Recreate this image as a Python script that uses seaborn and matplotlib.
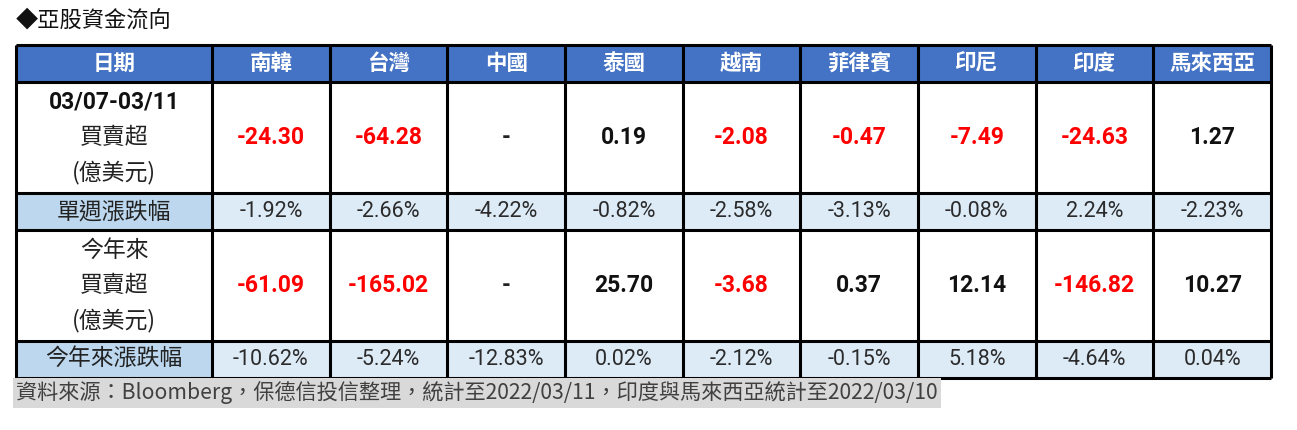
import numpy as np
import pandas as pd
import seaborn as sns
import matplotlib.pyplot as plt
from matplotlib.colors import ListedColormap

# table content
title = '◆亞股資金流向'
corner = '日期'
countries = ['南韓', '台灣', '中國', '泰國', '越南', '菲律賓', '印尼', '印度', '馬來西亞']
week_label = ['03/07-03/11', '買賣超', '(億美元)']
week_flow = [-24.30, -64.28, None, 0.19, -2.08, -0.47, -7.49, -24.63, 1.27]
week_chg_label = '單週漲跌幅'
week_chg = [-1.92, -2.66, -4.22, -0.82, -2.58, -3.13, -0.08, 2.24, -2.23]
ytd_label = ['今年來', '買賣超', '(億美元)']
ytd_flow = [-61.09, -165.02, None, 25.70, -3.68, 0.37, 12.14, -146.82, 10.27]
ytd_chg_label = '今年來漲跌幅'
ytd_chg = [-10.62, -5.24, -12.83, 0.02, -2.12, -0.15, 5.18, -4.64, 0.04]
source = '資料來源：Bloomberg，保德信投信整理，統計至2022/03/11，印度與馬來西亞統計至2022/03/10'

sns.set_style('white')
cjk = ['Noto Sans CJK TC', 'DejaVu Sans']
plt.rcParams['font.family'] = cjk

# grid layout in units: first column wider, flow rows taller
col_units = [5] + [3] * len(countries)
row_units = [1, 3, 1, 3, 1]
# colour codes per row: (label cell, data cells)
# 0 white, 1 header blue, 2 label light blue, 3 pale blue
row_codes = [(1, 1), (0, 0), (2, 3), (0, 0), (2, 3)]
palette = ['#FFFFFF', '#4472C4', '#BDD7EE', '#DDEBF7']

codes = np.array([[lab] + [dat] * len(countries) for lab, dat in row_codes])
codes = np.repeat(np.repeat(codes, row_units, axis=0), col_units, axis=1)
df = pd.DataFrame(codes)

fig = plt.figure(figsize=(12.97, 4.30), dpi=100)
ax = fig.add_axes([16 / 1297, 1 - 378 / 430, 1255 / 1297, 333 / 430])
sns.heatmap(df, cmap=ListedColormap(palette), vmin=-0.5, vmax=3.5, cbar=False,
            xticklabels=False, yticklabels=False, ax=ax)

col_edges = np.concatenate([[0], np.cumsum(col_units)])
row_edges = np.concatenate([[0], np.cumsum(row_units)])
col_mid = (col_edges[:-1] + col_edges[1:]) / 2
row_mid = (row_edges[:-1] + row_edges[1:]) / 2

ax.vlines(col_edges, 0, row_edges[-1], color='black', lw=2.2, clip_on=False)
ax.hlines(row_edges, 0, col_edges[-1], color='black', lw=2.2, clip_on=False)
ax.set_xlim(0, col_edges[-1])
ax.set_ylim(row_edges[-1], 0)

# header
ax.text(col_mid[0], row_mid[0], corner, ha='center', va='center', color='white',
        fontsize=15.5, fontweight='bold')
for x, c in zip(col_mid[1:], countries):
    ax.text(x, row_mid[0], c, ha='center', va='center', color='white',
            fontsize=15.5, fontweight='bold')


def flow_text(v):
    if v is None:
        return '-', '#222222'
    return f'{v:.2f}', '#FF0000' if v < 0 else '#111111'


def draw_flow_row(r, label, values):
    for k, line in enumerate(label):
        if k == 0 and line[0].isdigit():
            ax.text(col_mid[0], row_mid[r] - 0.95, line, ha='center', va='center',
                    color='#111111', fontsize=16.5, family=['Roboto'] + cjk, fontweight='bold')
        else:
            ax.text(col_mid[0], row_mid[r] + (k - 1) * 0.95, line, ha='center', va='center',
                    color='#222222', fontsize=16.5, fontweight='light')
    for x, v in zip(col_mid[1:], values):
        s, colr = flow_text(v)
        ax.text(x, row_mid[r], s, ha='center', va='center', color=colr,
                fontsize=16.5, fontweight='bold', family=['Roboto'] + cjk)


def draw_chg_row(r, label, values):
    ax.text(col_mid[0], row_mid[r], label, ha='center', va='center',
            color='#222222', fontsize=16.5, fontweight='light')
    for x, v in zip(col_mid[1:], values):
        ax.text(x, row_mid[r], f'{v:.2f}%', ha='center', va='center', color='#2b2b2b',
                fontsize=15.5, fontweight='normal', family=['Roboto'] + cjk)


draw_flow_row(1, week_label, week_flow)
draw_chg_row(2, week_chg_label, week_chg)
draw_flow_row(3, ytd_label, ytd_flow)
draw_chg_row(4, ytd_chg_label, ytd_chg)

fig.text(16 / 1297, 1 - 20 / 430, title, ha='left', va='center', fontsize=16,
         color='#111111', fontweight='light')
fig.text(16 / 1297, 1 - 393 / 430, source, ha='left', va='center', fontsize=15.25,
         color='#404040', fontweight='light',
         bbox=dict(facecolor='#D9D9D9', edgecolor='none', pad=2.5))

fig.savefig('out.png', dpi=100)
